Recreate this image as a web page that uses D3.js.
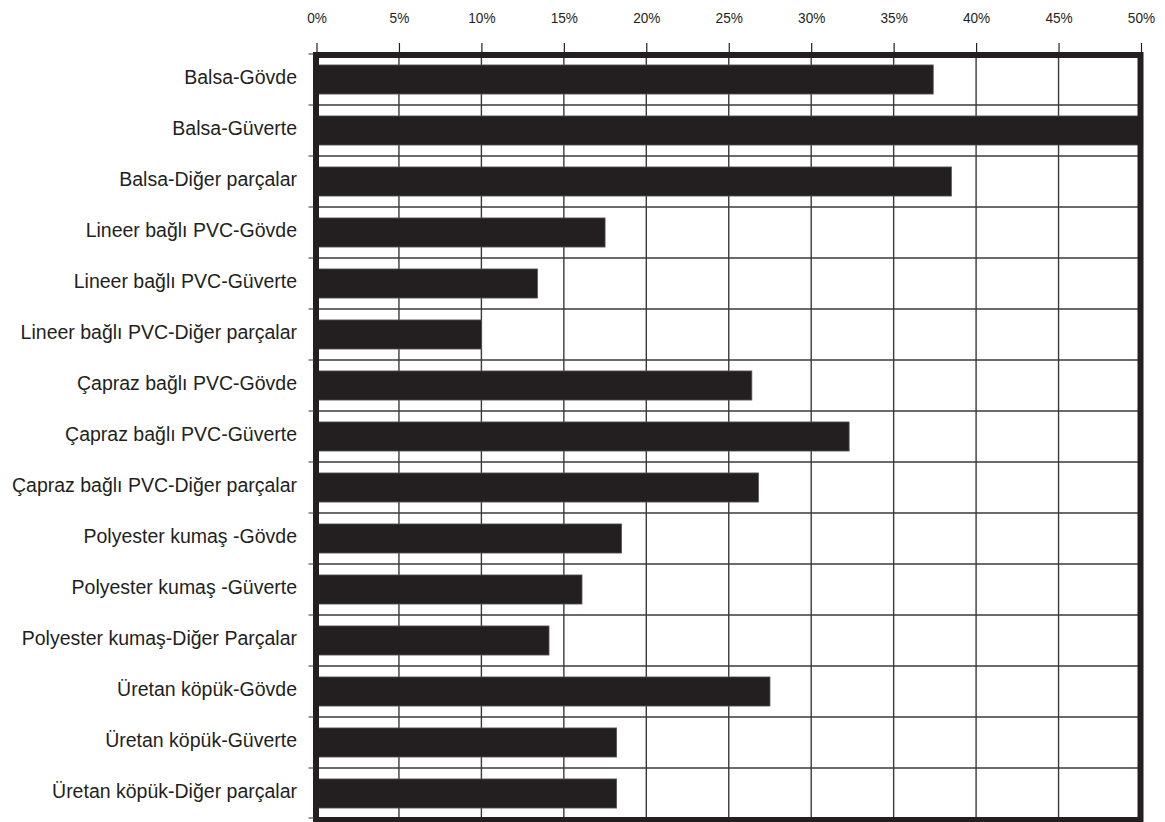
<!DOCTYPE html>
<html>
<head>
<meta charset="utf-8">
<script src="https://cdn.jsdelivr.net/npm/d3@7/dist/d3.min.js"></script>
<style>
  html, body { margin: 0; padding: 0; background: #fff; }
  svg { display: block; }
  text { font-family: "Liberation Sans", Arial, sans-serif; fill: #231f20; }
</style>
</head>
<body>
<svg id="chart" width="1165" height="822"></svg>
<script>
// Share of each core material / boat part (percent)
const categories = [
  "Balsa-Gövde",
  "Balsa-Güverte",
  "Balsa-Diğer parçalar",
  "Lineer bağlı PVC-Gövde",
  "Lineer bağlı PVC-Güverte",
  "Lineer bağlı PVC-Diğer parçalar",
  "Çapraz bağlı PVC-Gövde",
  "Çapraz bağlı PVC-Güverte",
  "Çapraz bağlı PVC-Diğer parçalar",
  "Polyester kumaş -Gövde",
  "Polyester kumaş -Güverte",
  "Polyester kumaş-Diğer Parçalar",
  "Üretan köpük-Gövde",
  "Üretan köpük-Güverte",
  "Üretan köpük-Diğer parçalar"
];
const values = [37.4, 50.1, 38.5, 17.5, 13.4, 10.0, 26.4, 32.3, 26.8, 18.5, 16.1, 14.1, 27.5, 18.2, 18.2];
const tickValues = [0, 5, 10, 15, 20, 25, 30, 35, 40, 45, 50];
const tickLabels = ["0%", "5%", "10%", "15%", "20%", "25%", "30%", "35%", "40%", "45%", "50%"];

const svg = d3.select("#chart");
const plotLeft = 316.5, plotRight = 1141, plotTop = 54, plotBottom = 819;
const ink = "#231f20";

const x = d3.scaleLinear().domain([0, 50]).range([plotLeft, plotRight]);
const y = d3.scaleBand().domain(categories).range([plotTop, plotBottom])
  .paddingInner(0.43).paddingOuter(0.215);
const step = y.step();
const rowTop = c => y(c) - y.paddingOuter() * step;

// grid: vertical lines at each tick, horizontal at row boundaries
const grid = svg.append("g");
grid.selectAll("line.v").data(tickValues.slice(1, -1)).join("line")
  .attr("x1", d => x(d)).attr("x2", d => x(d))
  .attr("y1", plotTop).attr("y2", plotBottom)
  .attr("stroke", "#3a3a3a").attr("stroke-width", 1.4);
const bounds = categories.slice(1).map(c => rowTop(c));
grid.selectAll("line.h").data(bounds).join("line")
  .attr("x1", plotLeft).attr("x2", plotRight)
  .attr("y1", d => d).attr("y2", d => d)
  .attr("stroke", "#3a3a3a").attr("stroke-width", 1.4);

// bars
svg.append("g").selectAll("rect").data(categories).join("rect")
  .attr("x", x(0) - 3)
  .attr("y", d => y(d))
  .attr("width", (d, i) => x(values[i]) - x(0) + 3)
  .attr("height", y.bandwidth())
  .attr("fill", ink)
  .attr("stroke", "#555").attr("stroke-width", 0.8);

// heavy frame
svg.append("rect")
  .attr("x", plotLeft - 0.5).attr("y", plotTop + 1)
  .attr("width", plotRight - plotLeft).attr("height", plotBottom - plotTop)
  .attr("fill", "none").attr("stroke", ink).attr("stroke-width", 6);

// top axis: ticks above frame, percent labels (slightly condensed)
const xAxis = d3.axisTop(x).tickValues(tickValues)
  .tickFormat((d, i) => tickLabels[i]).tickSize(9).tickPadding(20);
const gx = svg.append("g").attr("transform", `translate(0,${plotTop - 2})`).call(xAxis);
gx.select(".domain").remove();
gx.selectAll(".tick line").attr("stroke", ink).attr("stroke-width", 1.2);
gx.selectAll(".tick text").attr("font-size", "15.5px")
  .attr("transform", "scale(0.88,1)")
  .attr("font-family", "'Liberation Sans', Arial, sans-serif").attr("fill", ink);

// left ticks at row boundaries
const allBounds = categories.map(c => rowTop(c)).concat([plotBottom - 1]);
svg.append("g").selectAll("line").data(allBounds).join("line")
  .attr("x1", plotLeft - 8).attr("x2", plotLeft - 3)
  .attr("y1", d => d).attr("y2", d => d)
  .attr("stroke", "#555").attr("stroke-width", 1.2);

// category labels
svg.append("g").selectAll("text").data(categories).join("text")
  .attr("x", 297)
  .attr("y", d => y(d) + y.bandwidth() / 2)
  .attr("dy", "0.25em")
  .attr("text-anchor", "end")
  .attr("font-size", "19.5px")
  .text(d => d);
</script>
</body>
</html>
